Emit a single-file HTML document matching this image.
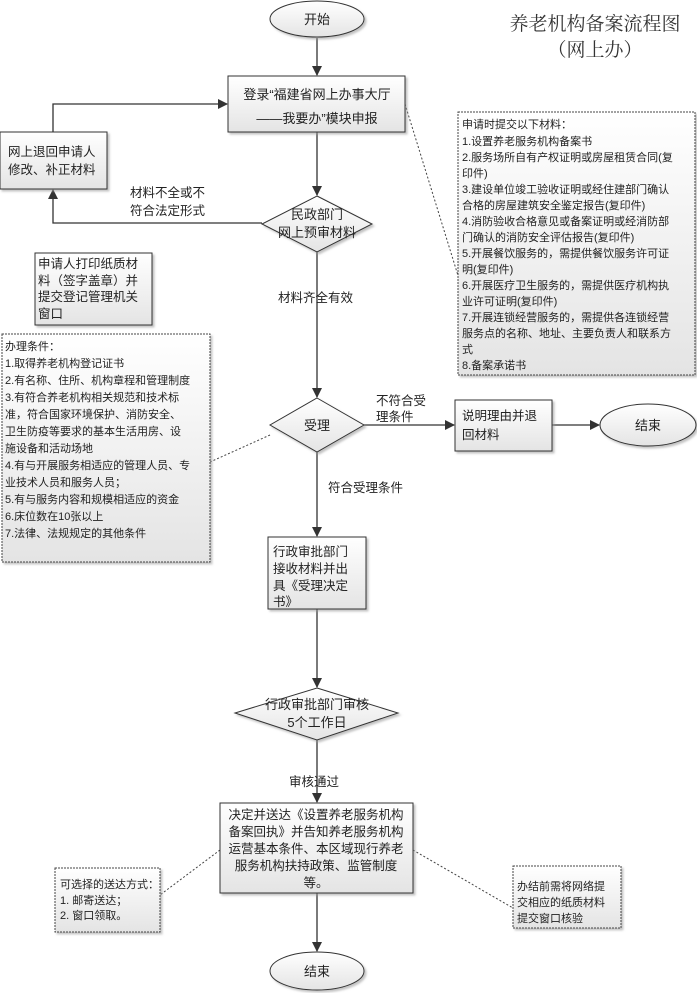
<!DOCTYPE html>
<html><head><meta charset="utf-8"><style>
html,body{margin:0;padding:0;background:#fff;}
svg{display:block;font-family:"Liberation Sans","Noto Sans CJK SC","WenQuanYi Zen Hei",sans-serif;}
</style></head><body>
<svg width="697" height="993" viewBox="0 0 697 993" xmlns="http://www.w3.org/2000/svg">
<defs>
<linearGradient id="g" x1="0" y1="0" x2="0" y2="1"><stop offset="0" stop-color="#ffffff"/><stop offset="1" stop-color="#e4e4e4"/></linearGradient>
<marker id="a" markerWidth="10" markerHeight="10" refX="9" refY="5" orient="auto" markerUnits="userSpaceOnUse"><path d="M0,0 L10,5 L0,10 z" fill="#333"/></marker>
<filter id="s" x="-10%" y="-10%" width="130%" height="130%"><feDropShadow dx="2" dy="2" stdDeviation="1" flood-color="#999" flood-opacity="0.6"/></filter>
</defs>
<g font-size="12" fill="#222">
<text x="595" y="30" font-size="19" text-anchor="middle" fill="#333" font-family="Liberation Serif, Noto Serif CJK SC, serif">养老机构备案流程图</text>
<text x="595" y="56" font-size="19" text-anchor="middle" fill="#333" font-family="Liberation Serif, Noto Serif CJK SC, serif">（网上办）</text>

<g stroke="#333" stroke-width="1.3" fill="none">
<line x1="317" y1="38" x2="317" y2="75" marker-end="url(#a)"/>
<line x1="317" y1="132" x2="317" y2="195" marker-end="url(#a)"/>
<polyline points="262,223 53,223 53,190" marker-end="url(#a)"/>
<polyline points="53,132 53,104 227,104" marker-end="url(#a)"/>
<line x1="317" y1="252" x2="317" y2="397" marker-end="url(#a)"/>
<line x1="364" y1="425" x2="454" y2="425" marker-end="url(#a)"/>
<line x1="552" y1="425" x2="599" y2="425" marker-end="url(#a)"/>
<line x1="317" y1="452" x2="317" y2="536" marker-end="url(#a)"/>
<line x1="317" y1="609" x2="317" y2="687" marker-end="url(#a)"/>
<line x1="317" y1="740" x2="317" y2="802" marker-end="url(#a)"/>
<line x1="317" y1="893" x2="317" y2="951" marker-end="url(#a)"/>
</g>
<g stroke="#444" stroke-width="1" stroke-dasharray="2,2" fill="none">
<line x1="405" y1="104" x2="460" y2="282"/>
<line x1="270" y1="435" x2="210" y2="462"/>
<line x1="220" y1="850" x2="160" y2="895"/>
<line x1="413" y1="850" x2="513" y2="908"/>
</g>

<g stroke="#333" stroke-width="1" fill="url(#g)" filter="url(#s)">
<ellipse cx="317" cy="19" rx="47" ry="18"/>
<rect x="228" y="76" width="177" height="56"/>
<rect x="0" y="132" width="107" height="57"/>
<polygon points="317,196 372,224 317,252 262,224"/>
<rect x="35" y="253" width="117" height="72"/>
<polygon points="317,398 364,425 317,452 270,425"/>
<rect x="455" y="400" width="97" height="51"/>
<ellipse cx="648" cy="425" rx="48" ry="21"/>
<rect x="268" y="537" width="98" height="72"/>
<polygon points="317,688 398,713 317,740 235,713"/>
<rect x="220" y="803" width="193" height="90"/>
<ellipse cx="317" cy="971" rx="47" ry="19"/>
</g>
<g stroke="#444" stroke-width="1" stroke-dasharray="2,1" fill="url(#g)" filter="url(#s)">
<rect x="458" y="112" width="237" height="263"/>
<rect x="2" y="334" width="208" height="228"/>
<rect x="55" y="868" width="105" height="64"/>
<rect x="513" y="866" width="108" height="62"/>
</g>

<g font-size="13" text-anchor="middle">
<text x="317" y="24">开始</text>
<text x="317" y="99">登录“福建省网上办事大厅</text>
<text x="317" y="123">——我要办”模块申报</text>
<text x="317" y="219">民政部门</text>
<text x="317" y="237">网上预审材料</text>
<text x="317" y="430">受理</text>
<text x="648" y="430">结束</text>
<text x="317" y="976">结束</text>
<text x="317" y="709">行政审批部门审核</text>
<text x="317" y="727">5个工作日</text>
</g>
<g font-size="12.5">
<text x="8" y="156">网上退回申请人</text>
<text x="8" y="174">修改、补正材料</text>
<text x="130" y="197">材料不全或不</text>
<text x="130" y="215">符合法定形式</text>
<text x="38" y="268">申请人打印纸质材</text>
<text x="38" y="285">料（签字盖章）并</text>
<text x="38" y="301">提交登记管理机关</text>
<text x="38" y="318">窗口</text>
<text x="278" y="302">材料齐全有效</text>
<text x="376" y="405">不符合受</text>
<text x="376" y="421">理条件</text>
<text x="462" y="420">说明理由并退</text>
<text x="462" y="439">回材料</text>
<text x="328" y="492">符合受理条件</text>
<text x="273" y="556">行政审批部门</text>
<text x="273" y="573">接收材料并出</text>
<text x="273" y="590">具《受理决定</text>
<text x="273" y="606">书》</text>
<text x="289" y="786">审核通过</text>
</g>
<g font-size="12.5" text-anchor="middle">
<text x="316" y="819">决定并送达《设置养老服务机构</text>
<text x="316" y="836">备案回执》并告知养老服务机构</text>
<text x="316" y="853">运营基本条件、本区域现行养老</text>
<text x="316" y="870">服务机构扶持政策、监管制度</text>
<text x="316" y="887">等。</text>
</g>
<g font-size="11">
<text x="60" y="888">可选择的送达方式：</text>
<text x="60" y="904">1. 邮寄送达；</text>
<text x="60" y="919">2. 窗口领取。</text>
<text x="517" y="890">办结前需将网络提</text>
<text x="517" y="906">交相应的纸质材料</text>
<text x="517" y="922">提交窗口核验</text>
<text x="462" y="128">申请时提交以下材料：</text>
<text x="462" y="145">1.设置养老服务机构备案书</text>
<text x="462" y="161">2.服务场所自有产权证明或房屋租赁合同(复</text>
<text x="462" y="177">印件)</text>
<text x="462" y="193">3.建设单位竣工验收证明或经住建部门确认</text>
<text x="462" y="209">合格的房屋建筑安全鉴定报告(复印件)</text>
<text x="462" y="225">4.消防验收合格意见或备案证明或经消防部</text>
<text x="462" y="241">门确认的消防安全评估报告(复印件)</text>
<text x="462" y="257">5.开展餐饮服务的，需提供餐饮服务许可证</text>
<text x="462" y="273">明(复印件)</text>
<text x="462" y="289">6.开展医疗卫生服务的，需提供医疗机构执</text>
<text x="462" y="305">业许可证明(复印件)</text>
<text x="462" y="321">7.开展连锁经营服务的，需提供各连锁经营</text>
<text x="462" y="337">服务点的名称、地址、主要负责人和联系方</text>
<text x="462" y="353">式</text>
<text x="462" y="369">8.备案承诺书</text>
<text x="5" y="350">办理条件：</text>
<text x="5" y="367">1.取得养老机构登记证书</text>
<text x="5" y="384">2.有名称、住所、机构章程和管理制度</text>
<text x="5" y="401">3.有符合养老机构相关规范和技术标</text>
<text x="5" y="418">准，符合国家环境保护、消防安全、</text>
<text x="5" y="435">卫生防疫等要求的基本生活用房、设</text>
<text x="5" y="452">施设备和活动场地</text>
<text x="5" y="469">4.有与开展服务相适应的管理人员、专</text>
<text x="5" y="486">业技术人员和服务人员；</text>
<text x="5" y="503">5.有与服务内容和规模相适应的资金</text>
<text x="5" y="520">6.床位数在10张以上</text>
<text x="5" y="537">7.法律、法规规定的其他条件</text>
</g>
</g>
</svg>
</body></html>
